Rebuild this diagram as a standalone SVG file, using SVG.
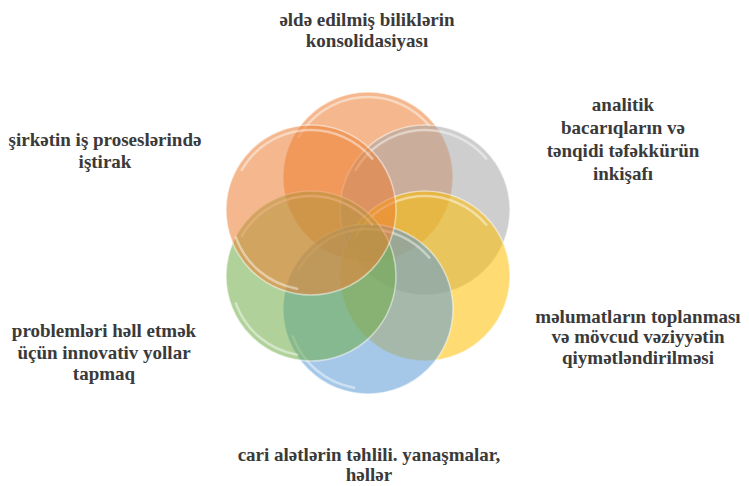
<svg xmlns="http://www.w3.org/2000/svg" width="749" height="486" viewBox="0 0 749 486">
  <rect width="749" height="486" fill="#ffffff"/>

  <g id="node-top">
    <circle cx="368" cy="177" r="85" fill="#ED7D31" fill-opacity="0.55" stroke="#ffffff" stroke-opacity="0.5" stroke-width="1.5"/>
    <path d="M 298.7 137 A 80 80 0 0 1 429.3 125.6" fill="none" stroke="#ffffff" stroke-opacity="0.45" stroke-width="2.5" stroke-linecap="round"/>
    <text x="367" y="26" font-family="Liberation Serif" font-size="19" font-weight="bold" fill="#3a3a3a" text-anchor="middle">əldə edilmiş biliklərin</text>
    <text x="367" y="47" font-family="Liberation Serif" font-size="19" font-weight="bold" fill="#3a3a3a" text-anchor="middle">konsolidasiyası</text>
  </g>

  <g id="node-upper-right">
    <circle cx="425" cy="210" r="85" fill="#A5A5A5" fill-opacity="0.55" stroke="#ffffff" stroke-opacity="0.5" stroke-width="1.5"/>
    <path d="M 355.7 170 A 80 80 0 0 1 486.3 158.6" fill="none" stroke="#ffffff" stroke-opacity="0.45" stroke-width="2.5" stroke-linecap="round"/>
    <text x="623" y="111" font-family="Liberation Serif" font-size="19" font-weight="bold" fill="#3a3a3a" text-anchor="middle">analitik</text>
    <text x="623" y="134" font-family="Liberation Serif" font-size="19" font-weight="bold" fill="#3a3a3a" text-anchor="middle">bacarıqların və</text>
    <text x="623" y="157" font-family="Liberation Serif" font-size="19" font-weight="bold" fill="#3a3a3a" text-anchor="middle">tənqidi təfəkkürün</text>
    <text x="623" y="180" font-family="Liberation Serif" font-size="19" font-weight="bold" fill="#3a3a3a" text-anchor="middle">inkişafı</text>
  </g>

  <g id="node-lower-right">
    <circle cx="425" cy="276" r="85" fill="#FFC000" fill-opacity="0.55" stroke="#ffffff" stroke-opacity="0.5" stroke-width="1.5"/>
    <path d="M 355.7 236 A 80 80 0 0 1 486.3 224.6" fill="none" stroke="#ffffff" stroke-opacity="0.45" stroke-width="2.5" stroke-linecap="round"/>
    <text x="638" y="323" font-family="Liberation Serif" font-size="19" font-weight="bold" fill="#3a3a3a" text-anchor="middle">məlumatların toplanması</text>
    <text x="638" y="343" font-family="Liberation Serif" font-size="19" font-weight="bold" fill="#3a3a3a" text-anchor="middle">və mövcud vəziyyətin</text>
    <text x="638" y="364" font-family="Liberation Serif" font-size="19" font-weight="bold" fill="#3a3a3a" text-anchor="middle">qiymətləndirilməsi</text>
  </g>

  <g id="node-bottom">
    <circle cx="368" cy="309" r="85" fill="#5B9BD5" fill-opacity="0.55" stroke="#ffffff" stroke-opacity="0.5" stroke-width="1.5"/>
    <path d="M 298.7 269 A 80 80 0 0 1 429.3 257.6" fill="none" stroke="#ffffff" stroke-opacity="0.45" stroke-width="2.5" stroke-linecap="round"/>
    <path d="M 354.1 387.8 A 80 80 0 0 1 292.8 336.4" fill="none" stroke="#ffffff" stroke-opacity="0.45" stroke-width="2.5" stroke-linecap="round"/>
    <text x="369" y="461" font-family="Liberation Serif" font-size="19" font-weight="bold" fill="#3a3a3a" text-anchor="middle">cari alətlərin təhlili. yanaşmalar,</text>
    <text x="369" y="481" font-family="Liberation Serif" font-size="19" font-weight="bold" fill="#3a3a3a" text-anchor="middle">həllər</text>
  </g>

  <g id="node-lower-left">
    <circle cx="311" cy="276" r="85" fill="#70AD47" fill-opacity="0.55" stroke="#ffffff" stroke-opacity="0.5" stroke-width="1.5"/>
    <path d="M 241.7 236 A 80 80 0 0 1 372.3 224.6" fill="none" stroke="#ffffff" stroke-opacity="0.45" stroke-width="2.5" stroke-linecap="round"/>
    <path d="M 297.1 354.8 A 80 80 0 0 1 235.8 303.4" fill="none" stroke="#ffffff" stroke-opacity="0.45" stroke-width="2.5" stroke-linecap="round"/>
    <text x="104" y="337" font-family="Liberation Serif" font-size="19" font-weight="bold" fill="#3a3a3a" text-anchor="middle">problemləri həll etmək</text>
    <text x="104" y="359" font-family="Liberation Serif" font-size="19" font-weight="bold" fill="#3a3a3a" text-anchor="middle">üçün innovativ yollar</text>
    <text x="104" y="380" font-family="Liberation Serif" font-size="19" font-weight="bold" fill="#3a3a3a" text-anchor="middle">tapmaq</text>
  </g>

  <g id="node-upper-left">
    <circle cx="311" cy="210" r="85" fill="#ED7D31" fill-opacity="0.55" stroke="#ffffff" stroke-opacity="0.5" stroke-width="1.5"/>
    <path d="M 241.7 170 A 80 80 0 0 1 372.3 158.6" fill="none" stroke="#ffffff" stroke-opacity="0.45" stroke-width="2.5" stroke-linecap="round"/>
    <path d="M 297.1 288.8 A 80 80 0 0 1 235.8 237.4" fill="none" stroke="#ffffff" stroke-opacity="0.45" stroke-width="2.5" stroke-linecap="round"/>
    <text x="105" y="146" font-family="Liberation Serif" font-size="19" font-weight="bold" fill="#3a3a3a" text-anchor="middle">şirkətin iş proseslərində</text>
    <text x="105" y="168" font-family="Liberation Serif" font-size="19" font-weight="bold" fill="#3a3a3a" text-anchor="middle">iştirak</text>
  </g>
</svg>
